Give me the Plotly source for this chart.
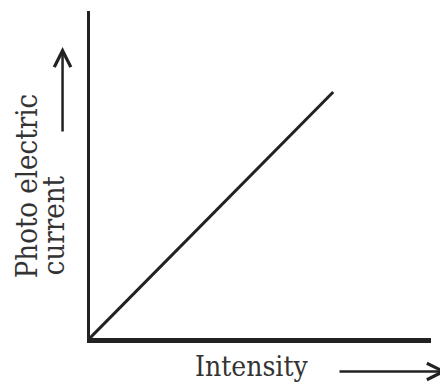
import plotly.graph_objects as go

# photo electric current vs intensity (linear, through origin)
intensity = [0, 10]
current = [0, 10]

x_title = "Intensity"
y_title_lines = ["Photo electric", "current"]

fig = go.Figure()
fig.add_trace(go.Scatter(x=intensity, y=current, mode="lines",
                         line=dict(color="#222222", width=3), hoverinfo="skip"))

serif = "DejaVu Serif Condensed, DejaVu Serif, serif"
ink = "#333333"

fig.add_annotation(x=0.4744, y=-0.087, xref="paper", yref="paper", text=x_title,
                   xanchor="center", yanchor="middle", showarrow=False,
                   font=dict(family=serif, size=28, color=ink))
# y title as two rotated lines (tighter line spacing than <br> gives)
for txt, xp, yp in zip(y_title_lines, [-0.1859, -0.1069], [0.1756, 0.1847]):
    fig.add_annotation(x=xp, y=yp, xref="paper", yref="paper", text=txt,
                       textangle=-90, xanchor="center", yanchor="bottom",
                       showarrow=False, font=dict(family=serif, size=29, color=ink))

# axis direction arrows
fig.add_annotation(x=1.0469, y=-0.1023, xref="paper", yref="paper", text="",
                   showarrow=True, ax=-109, ay=0, arrowhead=5, arrowsize=1.3,
                   arrowwidth=2.5, arrowcolor="#222222")
fig.add_annotation(x=-0.0805, y=0.8901, xref="paper", yref="paper", text="",
                   showarrow=True, ax=0, ay=86, arrowhead=5, arrowsize=1.3,
                   arrowwidth=2.5, arrowcolor="#222222")

fig.update_xaxes(range=[0, 14.02], showline=True, linecolor="#222222", linewidth=5,
                 showgrid=False, zeroline=False, showticklabels=False, ticks="")
fig.update_yaxes(range=[0, 13.29], showline=True, linecolor="#222222", linewidth=3,
                 showgrid=False, zeroline=False, showticklabels=False, ticks="")
# page body adds an 8px margin, so the figure is 8px smaller and shifted
fig.update_layout(width=440, height=379,
                  margin=dict(l=81.5, r=17, t=3, b=48.5, autoexpand=False),
                  plot_bgcolor="white", paper_bgcolor="white", showlegend=False)

fig.write_html("out.html")
